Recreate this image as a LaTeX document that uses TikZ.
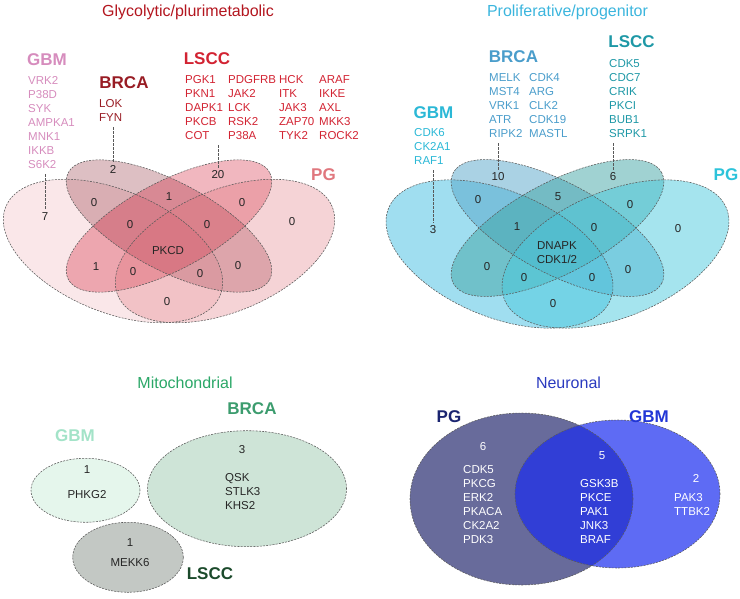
\documentclass[tikz,border=0pt]{standalone}
\usepackage{fontspec}
\setmainfont{Liberation Sans}
\usepackage{tikz}
\usetikzlibrary{calc}
\definecolor{glytitle}{HTML}{B3161F}
\definecolor{glygbmtext}{HTML}{D68CBD}
\definecolor{glybrcatext}{HTML}{981C24}
\definecolor{glylscctext}{HTML}{D22332}
\definecolor{glypgtext}{HTML}{E0777E}
\definecolor{glygbm}{HTML}{EFB0B6}
\definecolor{glybrca}{HTML}{8E2A37}
\definecolor{glylscc}{HTML}{D0102A}
\definecolor{glypg}{HTML}{DE6C76}
\definecolor{protitle}{HTML}{3BB5DD}
\definecolor{probrcatext}{HTML}{4A9DCB}
\definecolor{prolscctext}{HTML}{1E98A6}
\definecolor{progbmtext}{HTML}{2BB8D6}
\definecolor{propgtext}{HTML}{2DC3DA}
\definecolor{progbm}{HTML}{41BDE1}
\definecolor{probrca}{HTML}{55A5C9}
\definecolor{prolscc}{HTML}{41A5A5}
\definecolor{propg}{HTML}{4BC9DD}
\definecolor{mitotitle}{HTML}{2AA767}
\definecolor{mitobrcatext}{HTML}{3C9C6E}
\definecolor{mitogbmtext}{HTML}{A3E3C8}
\definecolor{mitolscctext}{HTML}{1B4A2B}
\definecolor{mitogbm}{HTML}{E5F6EC}
\definecolor{mitobrca}{HTML}{CEE4D7}
\definecolor{mitolscc}{HTML}{C3C8C4}
\definecolor{neurotitle}{HTML}{2A3ABF}
\definecolor{neuropgtext}{HTML}{1A2470}
\definecolor{neurogbmtext}{HTML}{2236D6}
\definecolor{neuropg}{HTML}{686B9B}
\definecolor{neurogbm}{HTML}{1A2CF0}
\tikzset{
  vennline/.style={draw=black!65,line width=0.55pt,dash pattern=on 2pt off 1.2pt},
  leader/.style={draw=black!65,line width=0.55pt,dash pattern=on 2.5pt off 1.5pt,shorten <=2pt,shorten >=3pt},
  setname/.style={font=\fontsize{17}{17}\selectfont\bfseries,inner sep=0pt},
  panel/.style={font=\fontsize{16}{16}\selectfont,inner sep=0pt,anchor=base},
  genelist/.style={font=\fontsize{11.5}{14}\selectfont,inner sep=0pt,anchor=base west},
  count/.style={font=\fontsize{11.5}{14}\selectfont,inner sep=0pt,text=black!85},
}

\begin{document}
\begin{tikzpicture}[x=1pt,y=-1pt]
  \useasboundingbox (0,0) rectangle (740,598);

  % Glycolytic/plurimetabolic
  \fill[glygbm,fill opacity=.3] (113,251) circle[x radius=116pt,y radius=61pt,rotate=-22.5];
  \fill[glybrca,fill opacity=.3] (169,226) circle[x radius=114pt,y radius=44pt,rotate=-28];
  \fill[glylscc,fill opacity=.3] (169,226) circle[x radius=114pt,y radius=44pt,rotate=28];
  \fill[glypg,fill opacity=.3] (225,251) circle[x radius=116pt,y radius=61pt,rotate=22.5];
  \draw[vennline] (113,251) circle[x radius=116pt,y radius=61pt,rotate=-22.5];
  \draw[vennline] (169,226) circle[x radius=114pt,y radius=44pt,rotate=-28];
  \draw[vennline] (169,226) circle[x radius=114pt,y radius=44pt,rotate=28];
  \draw[vennline] (225,251) circle[x radius=116pt,y radius=61pt,rotate=22.5];

  \node[panel,text=glytitle] (glyhead) at (188,16.7) {Glycolytic/plurimetabolic};
  \node[setname,text=glygbmtext] (glygbmname) at (47,59.5) {GBM};
  \node[setname,text=glybrcatext] (glybrcaname) at (124,83) {BRCA};
  \node[setname,text=glylscctext] (glylsccname) at (207,59) {LSCC};
  \node[setname,text=glypgtext] (glypgname) at (323.5,174.5) {PG};
  \node[genelist,text=glygbmtext] (glygbmlist) at (28,84)
    {\begin{tabular}[t]{@{}l@{}}VRK2\\P38D\\SYK\\AMPKA1\\MNK1\\IKKB\\S6K2\end{tabular}};
  \node[genelist,text=glybrcatext] (glybrcalist) at (99,107)
    {\begin{tabular}[t]{@{}l@{}}LOK\\FYN\end{tabular}};
  \node[genelist,text=glylscctext] (glylscclist) at (185,83)
    {\begin{tabular}[t]{@{}p{43pt}@{}p{51pt}@{}p{40pt}@{}l@{}}
      PGK1 & PDGFRB & HCK & ARAF\\
      PKN1 & JAK2 & ITK & IKKE\\
      DAPK1 & LCK & JAK3 & AXL\\
      PKCB & RSK2 & ZAP70 & MKK3\\
      COT & P38A & TYK2 & ROCK2
    \end{tabular}};

  \node[count] (gly-g) at (45,217) {7};
  \node[count] (gly-b) at (113,169) {2};
  \node[count] (gly-l) at (218,175) {20};
  \node[count] (gly-gb) at (94,203) {0};
  \node[count] (gly-bl) at (169,197) {1};
  \node[count] (gly-lp) at (242,203) {0};
  \node[count] (gly-p) at (292,222) {0};
  \node[count] (gly-gbl) at (130,225) {0};
  \node[count] (gly-blp) at (207,225) {0};
  \node[count] (gly-all) at (168,251) {PKCD};
  \node[count] (gly-gl) at (96,267) {1};
  \node[count] (gly-glp) at (133,272) {0};
  \node[count] (gly-gbp) at (200,274) {0};
  \node[count] (gly-bp) at (238,266) {0};
  \node[count] (gly-gp) at (167,302) {0};
  \draw[leader] (gly-g.north |- glygbmlist.south) -- (gly-g.north);
  \draw[leader] (gly-b.north |- glybrcalist.south) -- (gly-b.north);
  \draw[leader] (gly-l.north |- glylscclist.south) -- (gly-l.north);

  % Proliferative/progenitor
  \fill[progbm,fill opacity=.5] (499.5,254) circle[x radius=120pt,y radius=63pt,rotate=-22.5];
  \fill[probrca,fill opacity=.5] (557.5,228) circle[x radius=118pt,y radius=45.5pt,rotate=-28];
  \fill[prolscc,fill opacity=.5] (557.5,228) circle[x radius=118pt,y radius=45.5pt,rotate=28];
  \fill[propg,fill opacity=.5] (615.5,254) circle[x radius=120pt,y radius=63pt,rotate=22.5];
  \draw[vennline] (499.5,254) circle[x radius=120pt,y radius=63pt,rotate=-22.5];
  \draw[vennline] (557.5,228) circle[x radius=118pt,y radius=45.5pt,rotate=-28];
  \draw[vennline] (557.5,228) circle[x radius=118pt,y radius=45.5pt,rotate=28];
  \draw[vennline] (615.5,254) circle[x radius=120pt,y radius=63pt,rotate=22.5];

  \node[panel,text=protitle] (prohead) at (567.5,16.7) {Proliferative/progenitor};
  \node[setname,text=progbmtext] (progbmname) at (433.5,112.5) {GBM};
  \node[setname,text=probrcatext] (probrcaname) at (513.5,57) {BRCA};
  \node[setname,text=prolscctext] (prolsccname) at (631.5,41.3) {LSCC};
  \node[setname,text=propgtext] (propgname) at (726,174.5) {PG};
  \node[genelist,text=progbmtext] (progbmlist) at (414,136)
    {\begin{tabular}[t]{@{}l@{}}CDK6\\CK2A1\\RAF1\end{tabular}};
  \node[genelist,text=probrcatext] (probrcalist) at (489,81)
    {\begin{tabular}[t]{@{}p{40pt}@{}l@{}}
      MELK & CDK4\\
      MST4 & ARG\\
      VRK1 & CLK2\\
      ATR & CDK19\\
      RIPK2 & MASTL
    \end{tabular}};
  \node[genelist,text=prolscctext] (prolscclist) at (609,67)
    {\begin{tabular}[t]{@{}l@{}}CDK5\\CDC7\\CRIK\\PKCI\\BUB1\\SRPK1\end{tabular}};

  \node[count] (pro-g) at (433,230) {3};
  \node[count] (pro-b) at (498,177) {10};
  \node[count] (pro-l) at (613,177) {6};
  \node[count] (pro-gb) at (478,200) {0};
  \node[count] (pro-bl) at (558,197) {5};
  \node[count] (pro-lp) at (630,205) {0};
  \node[count] (pro-p) at (678,229) {0};
  \node[count] (pro-gbl) at (517,227) {1};
  \node[count] (pro-blp) at (594,228) {0};
  \node[count,align=center] (pro-all) at (557,253) {DNAPK\\CDK1/2};
  \node[count] (pro-gl) at (487,267) {0};
  \node[count] (pro-glp) at (524,278) {0};
  \node[count] (pro-gbp) at (592,278) {0};
  \node[count] (pro-bp) at (628,270) {0};
  \node[count] (pro-gp) at (553,304) {0};
  \draw[leader] (pro-g.north |- progbmlist.south) -- (pro-g.north);
  \draw[leader] (pro-b.north |- probrcalist.south) -- (pro-b.north);
  \draw[leader] (pro-l.north |- prolscclist.south) -- (pro-l.north);

  % Mitochondrial
  \filldraw[vennline,fill=mitogbm] (85.5,490.3) ellipse[x radius=54.5pt,y radius=32pt];
  \filldraw[vennline,fill=mitobrca] (247,488.7) ellipse[x radius=99.5pt,y radius=58pt];
  \filldraw[vennline,fill=mitolscc] (128,557.3) ellipse[x radius=55.3pt,y radius=35pt];
  \node[panel,text=mitotitle] (mitohead) at (185,388) {Mitochondrial};
  \node[setname,text=mitobrcatext] (mitobrcaname) at (252,408.5) {BRCA};
  \node[setname,text=mitogbmtext] (mitogbmname) at (75,435.5) {GBM};
  \node[setname,text=mitolscctext] (mitolsccname) at (210,574) {LSCC};
  \node[count] (mito-g) at (87,470) {1};
  \node[count] (mito-glist) at (87,495) {PHKG2};
  \node[count] (mito-b) at (242,450) {3};
  \node[genelist,text=black!85] (mito-blist) at (225,481)
    {\begin{tabular}[t]{@{}l@{}}QSK\\STLK3\\KHS2\end{tabular}};
  \node[count] (mito-l) at (130,543) {1};
  \node[count] (mito-llist) at (130,563) {MEKK6};

  % Neuronal
  \fill[neuropg] (521.5,499) ellipse[x radius=111.5pt,y radius=86pt];
  \fill[neurogbm,fill opacity=.7] (617.5,494) ellipse[x radius=102.5pt,y radius=74pt];
  \draw[vennline] (521.5,499) ellipse[x radius=111.5pt,y radius=86pt];
  \draw[vennline] (617.5,494) ellipse[x radius=102.5pt,y radius=74pt];
  \node[panel,text=neurotitle] (neurohead) at (568.5,388) {Neuronal};
  \node[setname,text=neuropgtext] (neuropgname) at (449,417) {PG};
  \node[setname,text=neurogbmtext] (neurogbmname) at (649,417) {GBM};
  \node[count,text=white] (neuro-p) at (483,447) {6};
  \node[genelist,text=white] (neuro-plist) at (463,473)
    {\begin{tabular}[t]{@{}l@{}}CDK5\\PKCG\\ERK2\\PKACA\\CK2A2\\PDK3\end{tabular}};
  \node[count,text=white] (neuro-pg) at (602,456) {5};
  \node[genelist,text=white] (neuro-pglist) at (580,487)
    {\begin{tabular}[t]{@{}l@{}}GSK3B\\PKCE\\PAK1\\JNK3\\BRAF\end{tabular}};
  \node[count,text=white] (neuro-g) at (696,478) {2};
  \node[genelist,text=white] (neuro-glist) at (674,501)
    {\begin{tabular}[t]{@{}l@{}}PAK3\\TTBK2\end{tabular}};
\end{tikzpicture}
\end{document}
